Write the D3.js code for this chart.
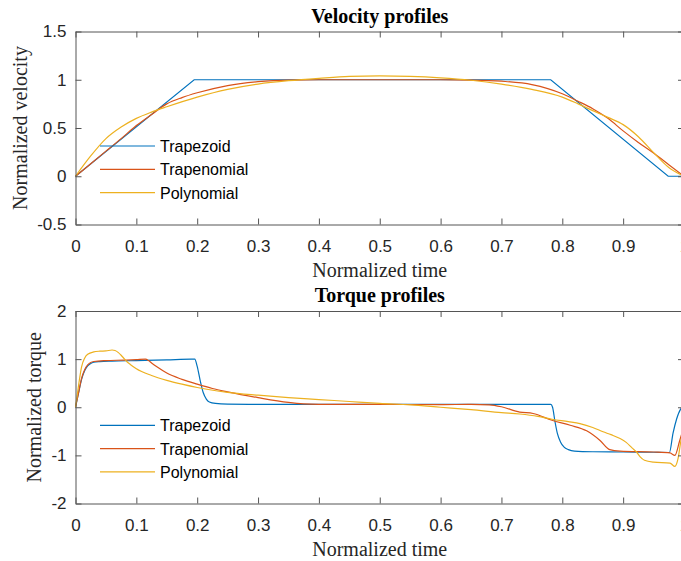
<!DOCTYPE html>
<html lang="en">
<head>
<meta charset="UTF-8"/>
<title>Velocity and torque profiles</title>
<script src="https://d3js.org/d3.v7.min.js"></script>
<style>
  body { margin: 0; background: #fff; }
  svg { display: block; }
  .tick text { font-family: "Liberation Sans", Arial, sans-serif; font-size: 17px; fill: #262626; }
  .title { font-family: "Liberation Serif", "Times New Roman", serif; font-size: 20px; font-weight: bold; fill: #000; }
  .label { font-family: "Liberation Serif", "Times New Roman", serif; font-size: 20px; fill: #262626; }
  .legend { font-family: "Liberation Sans", Arial, sans-serif; font-size: 16px; fill: #000; }
</style>
</head>
<body>
<script>
var w = 681, h = 561;

// tick labels
var xTicks = [0, 0.1, 0.2, 0.3, 0.4, 0.5, 0.6, 0.7, 0.8, 0.9, 1];
var velTicks = [-0.5, 0, 0.5, 1, 1.5];
var torqueTicks = [-2, -1, 0, 1, 2];

var seriesNames = ["Trapezoid", "Trapenomial", "Polynomial"];
var colors = ["#0072BD", "#D95319", "#EDB120"];

// velocity profiles (normalized time, normalized velocity)
var velTrapezoidT = [0, 0.195, 0.781, 0.974, 1.0];
var velTrapezoid  = [0, 1, 1, 0, 0];

var velTrapenomialT = [0, 0.025, 0.05, 0.075, 0.1, 0.125, 0.15, 0.175, 0.2, 0.25, 0.3, 0.35, 0.4, 0.5, 0.6, 0.65, 0.7, 0.75, 0.8, 0.825, 0.85, 0.875, 0.9, 0.925, 0.95, 0.975, 1.0];
var velTrapenomial  = [0, 0.13, 0.26, 0.39, 0.525, 0.64, 0.75, 0.815, 0.865, 0.94, 0.98, 0.997, 1.0, 1.0, 1.0, 0.997, 0.985, 0.95, 0.855, 0.78, 0.70, 0.6, 0.47, 0.35, 0.24, 0.12, 0];

var velPolynomialT = [0, 0.025, 0.05, 0.075, 0.1, 0.125, 0.15, 0.2, 0.25, 0.3, 0.35, 0.4, 0.45, 0.5, 0.55, 0.6, 0.65, 0.7, 0.75, 0.8, 0.826, 0.85, 0.875, 0.9, 0.925, 0.95, 0.975, 1.0];
var velPolynomial  = [0, 0.21, 0.39, 0.51, 0.6, 0.665, 0.72, 0.82, 0.9, 0.955, 0.99, 1.015, 1.035, 1.04, 1.035, 1.02, 0.995, 0.955, 0.9, 0.82, 0.75, 0.68, 0.61, 0.535, 0.41, 0.245, 0.09, 0];

// torque profiles (normalized time, normalized torque)
var trqTrapezoidT = [0, 0.005, 0.01, 0.015, 0.02, 0.025, 0.03, 0.04, 0.06, 0.1, 0.15, 0.19, 0.196, 0.2, 0.205, 0.21, 0.215, 0.22, 0.23, 0.25, 0.3, 0.781, 0.784, 0.788, 0.792, 0.797, 0.803, 0.81, 0.82, 0.85, 0.9, 0.95, 0.976, 0.982, 0.988, 0.995, 1.0];
var trqTrapezoid  = [0, 0.3, 0.58, 0.76, 0.86, 0.91, 0.935, 0.95, 0.96, 0.97, 0.985, 1.0, 1.0, 0.85, 0.55, 0.3, 0.17, 0.11, 0.08, 0.065, 0.06, 0.06, 0.0, -0.3, -0.55, -0.72, -0.83, -0.88, -0.91, -0.925, -0.93, -0.935, -0.94, -0.54, -0.24, -0.03, 0.02];

var trqTrapenomialT = [0, 0.005, 0.01, 0.015, 0.02, 0.025, 0.03, 0.05, 0.08, 0.1, 0.115, 0.12, 0.125, 0.135, 0.15, 0.175, 0.2, 0.225, 0.25, 0.3, 0.35, 0.375, 0.4, 0.5, 0.6, 0.65, 0.68, 0.7, 0.73, 0.752, 0.783, 0.813, 0.84, 0.862, 0.878, 0.895, 0.95, 0.977, 0.985, 0.993, 1.0];
var trqTrapenomial  = [0, 0.3, 0.6, 0.78, 0.88, 0.93, 0.95, 0.97, 0.98, 0.99, 1.0, 0.97, 0.92, 0.83, 0.71, 0.58, 0.48, 0.39, 0.32, 0.2, 0.1, 0.07, 0.06, 0.06, 0.055, 0.06, 0.05, 0.01, -0.1, -0.13, -0.27, -0.375, -0.49, -0.69, -0.88, -0.91, -0.93, -0.95, -1.0, -0.69, -0.4];

var trqPolynomialT = [0, 0.005, 0.01, 0.015, 0.02, 0.03, 0.04, 0.05, 0.06, 0.065, 0.07, 0.075, 0.08, 0.085, 0.09, 0.1, 0.125, 0.15, 0.175, 0.2, 0.25, 0.3, 0.35, 0.4, 0.45, 0.5, 0.55, 0.6, 0.65, 0.7, 0.73, 0.76, 0.783, 0.81, 0.829, 0.85, 0.867, 0.88, 0.895, 0.905, 0.915, 0.922, 0.928, 0.935, 0.95, 0.977, 0.985, 0.99, 0.995, 1.0];
var trqPolynomial  = [0, 0.45, 0.84, 1.02, 1.1, 1.15, 1.165, 1.17, 1.19, 1.18, 1.14, 1.08, 1.01, 0.94, 0.89, 0.8, 0.66, 0.56, 0.48, 0.41, 0.31, 0.25, 0.2, 0.16, 0.12, 0.08, 0.05, 0.0, -0.05, -0.11, -0.14, -0.19, -0.25, -0.3, -0.34, -0.42, -0.51, -0.57, -0.65, -0.73, -0.85, -0.93, -1.03, -1.1, -1.14, -1.16, -1.23, -1.08, -0.69, -0.4];

function zip(ts, vs) {
  return ts.map(function(t, i) { return [t, vs[i]]; });
}

var svg = d3.select("body")
            .append("svg")
            .attr("width", w)
            .attr("height", h);

var left = 75.5, right = 684;

function drawPanel(opt) {
  var xScale = d3.scaleLinear().domain([0, 1]).range([left, right]);
  var yScale = d3.scaleLinear().domain(opt.yDomain).range([opt.bottom, opt.top]);

  var g = svg.append("g");

  // lines
  opt.series.forEach(function(s, i) {
    var line = d3.line()
                 .x(function(d) { return xScale(d[0]); })
                 .y(function(d) { return yScale(d[1]); })
                 .curve(s.curve);
    g.append("path")
     .datum(s.data)
     .attr("d", line)
     .attr("fill", "none")
     .attr("stroke", colors[i])
     .attr("stroke-width", 1.2);
  });

  // box axes, ticks pointing inward like matlab
  var fmt = function(d) { return String(d); };

  g.append("g")
   .attr("transform", "translate(0," + opt.bottom + ")")
   .call(d3.axisBottom(xScale).tickValues(xTicks).tickFormat(fmt)
         .tickSizeInner(-6).tickSizeOuter(0).tickPadding(15));

  g.append("g")
   .attr("transform", "translate(0," + opt.top + ")")
   .call(d3.axisTop(xScale).tickValues(xTicks).tickFormat("")
         .tickSizeInner(-6).tickSizeOuter(0));

  g.append("g")
   .attr("transform", "translate(" + left + ",0)")
   .call(d3.axisLeft(yScale).tickValues(opt.yTicks).tickFormat(fmt)
         .tickSizeInner(-6).tickSizeOuter(0).tickPadding(9));

  g.append("g")
   .attr("transform", "translate(" + right + ",0)")
   .call(d3.axisRight(yScale).tickValues(opt.yTicks).tickFormat("")
         .tickSizeInner(-6).tickSizeOuter(0));

  g.selectAll(".domain").attr("stroke", "#555").attr("stroke-width", 1);
  g.selectAll(".tick line").attr("stroke", "#555");

  // title and labels
  g.append("text")
   .attr("class", "title")
   .attr("x", (left + right) / 2)
   .attr("y", opt.top - 9)
   .attr("text-anchor", "middle")
   .text(opt.title);

  g.append("text")
   .attr("class", "label")
   .attr("x", (left + right) / 2)
   .attr("y", opt.bottom + 52)
   .attr("text-anchor", "middle")
   .text("Normalized time");

  g.append("text")
   .attr("class", "label")
   .attr("transform", "translate(" + opt.ylabelX + "," + ((opt.top + opt.bottom) / 2) + ") rotate(-90)")
   .attr("text-anchor", "middle")
   .text(opt.ylabel);

  // legend (no box)
  seriesNames.forEach(function(name, i) {
    var ly = opt.legendY + i * 23.3;
    g.append("line")
     .attr("x1", 100).attr("x2", 155)
     .attr("y1", ly).attr("y2", ly)
     .attr("stroke", colors[i])
     .attr("stroke-width", 1.2);
    g.append("text")
     .attr("class", "legend")
     .attr("x", 160)
     .attr("y", ly + 6)
     .text(name);
  });
}

drawPanel({
  top: 31.5, bottom: 224.5,
  yDomain: [-0.5, 1.5], yTicks: velTicks,
  title: "Velocity profiles", ylabel: "Normalized velocity", ylabelX: 27,
  legendY: 146,
  series: [
    { data: zip(velTrapezoidT, velTrapezoid), curve: d3.curveLinear },
    { data: zip(velTrapenomialT, velTrapenomial), curve: d3.curveMonotoneX },
    { data: zip(velPolynomialT, velPolynomial), curve: d3.curveMonotoneX }
  ]
});

drawPanel({
  top: 311, bottom: 503.5,
  yDomain: [-2, 2], yTicks: torqueTicks,
  title: "Torque profiles", ylabel: "Normalized torque", ylabelX: 41,
  legendY: 425.3,
  series: [
    { data: zip(trqTrapezoidT, trqTrapezoid), curve: d3.curveMonotoneX },
    { data: zip(trqTrapenomialT, trqTrapenomial), curve: d3.curveMonotoneX },
    { data: zip(trqPolynomialT, trqPolynomial), curve: d3.curveMonotoneX }
  ]
});
</script>
</body>
</html>
